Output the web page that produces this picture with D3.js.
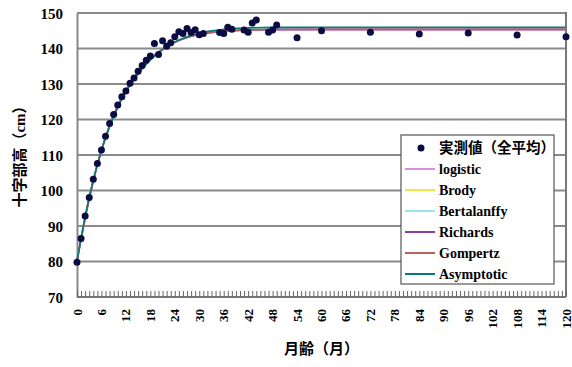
<!DOCTYPE html>
<html>
<head>
<meta charset="utf-8">
<script src="https://cdn.jsdelivr.net/npm/d3@7"></script>
<style>
  html, body { margin: 0; padding: 0; background: #fff; }
  svg { display: block; }
  text { font-family: "Liberation Serif", "Noto Sans CJK JP", serif; font-weight: bold; fill: #000; }
</style>
</head>
<body>
<svg id="chart" width="572" height="367"></svg>
<script>
// Measured withers height (all-animal mean), cm, by age in months
const obsMonths = [0,1,2,3,4,5,6,7,8,9,10,11,12,13,14,15,16,17,18,19,20,21,22,23,24,
  25,26,27,28,29,30,31,35,36,37,38,41,42,43,44,47,48,49,54,60,72,84,96,108,120];
const obsValues = [79.8,86.5,92.8,98.0,103.2,107.6,111.4,115.3,118.9,121.4,124.1,126.4,128.0,
  130.2,131.7,133.6,135.2,136.7,137.9,141.4,138.3,142.2,140.6,141.6,143.3,
  144.7,144.2,145.6,144.5,145.3,143.9,144.2,144.5,144.2,146.0,145.4,145.2,144.6,147.2,148.0,
  144.6,145.2,146.6,143.0,145.0,144.6,144.1,144.4,143.8,143.3];

// Fitted growth curves, sampled by month
const curveMonths = [0,1,2,3,4,6,8,10,12,15,18,21,24,27,30,36,42,48,60,72,84,96,108,120];
const logisticValues    = [80.6,86.2,92.0,97.5,102.6,111.4,118.4,124.0,128.4,133.4,137.2,139.9,141.8,143.1,143.9,144.8,145.1,145.25,145.3,145.3,145.3,145.3,145.3,145.3];
const brodyValues       = [80.0,86.5,92.6,98.0,102.9,111.2,117.9,123.3,127.7,132.8,136.7,139.6,141.7,143.2,144.2,145.2,145.6,145.75,145.8,145.8,145.8,145.8,145.8,145.8];
const bertalanffyValues = [80.2,86.4,92.4,97.8,102.8,111.3,118.1,123.6,128.0,133.1,136.9,139.7,141.7,143.1,144.0,145.0,145.4,145.55,145.6,145.6,145.6,145.6,145.6,145.6];
const richardsValues    = [80.1,86.3,92.3,97.7,102.7,111.3,118.2,123.7,128.1,133.2,137.0,139.8,141.8,143.1,144.0,144.9,145.25,145.35,145.4,145.4,145.4,145.4,145.4,145.4];
const gompertzValues    = [80.3,86.3,92.2,97.6,102.7,111.4,118.3,123.8,128.2,133.3,137.1,139.8,141.8,143.1,144.0,144.9,145.2,145.35,145.4,145.4,145.4,145.4,145.4,145.4];
const asymptoticValues  = [80.0,86.6,92.7,98.1,103.0,111.3,118.0,123.4,127.8,132.9,136.8,139.7,141.8,143.3,144.3,145.4,145.8,145.95,146.0,146.0,146.0,146.0,146.0,146.0];

const series = [
  { name: "logistic",    values: logisticValues,    color: "#dc8cdc" },
  { name: "Brody",       values: brodyValues,       color: "#ece84a" },
  { name: "Bertalanffy", values: bertalanffyValues, color: "#9ce4ec" },
  { name: "Richards",    values: richardsValues,    color: "#8a3e9e" },
  { name: "Gompertz",    values: gompertzValues,    color: "#b8625e" },
  { name: "Asymptotic",  values: asymptoticValues,  color: "#0a7a78" }
];

const yTicks = [70,80,90,100,110,120,130,140,150];
const xLabelTicks = d3.range(0, 121, 6);
const xMinorTicks = d3.range(0, 121, 1);

const svg = d3.select("#chart");
const plot = { left: 77, right: 566, top: 13, bottom: 297 };

const x = d3.scaleLinear().domain([0, 120]).range([plot.left, plot.right]);
const y = d3.scaleLinear().domain([70, 150]).range([plot.bottom, plot.top]);

// horizontal gridlines
svg.append("g").selectAll("line").data(yTicks.filter(v => v > 70)).join("line")
  .attr("x1", plot.left).attr("x2", plot.right)
  .attr("y1", d => y(d)).attr("y2", d => y(d))
  .attr("stroke", "#8a8a8a").attr("stroke-width", 2.2);

// right border of plot area
svg.append("line")
  .attr("x1", plot.right).attr("x2", plot.right)
  .attr("y1", plot.top - 1).attr("y2", plot.bottom)
  .attr("stroke", "#777").attr("stroke-width", 2);

// y axis
const yAxis = d3.axisLeft(y).tickValues(yTicks).tickSize(0).tickPadding(14).tickFormat(d3.format("d"));
const gy = svg.append("g").attr("transform", `translate(${plot.left},0)`).call(yAxis);
gy.select(".domain").attr("stroke", "#888").attr("stroke-width", 2);
gy.selectAll("text").style("font-size", "15px").attr("dy", "0.36em");

// x axis: monthly ticks pointing inward
const xAxis = d3.axisTop(x).tickValues(xMinorTicks).tickSize(6).tickFormat("");
const gx = svg.append("g").attr("transform", `translate(0,${plot.bottom})`).call(xAxis);
gx.select(".domain").attr("stroke", "#777").attr("stroke-width", 2).attr("d", `M${plot.left},0H${plot.right}`);
gx.selectAll(".tick line").attr("stroke", "#666").attr("stroke-width", 1);

// x tick labels, rotated
svg.append("g").selectAll("text").data(xLabelTicks).join("text")
  .attr("transform", d => `translate(${x(d) + 4.5},${plot.bottom + 12}) rotate(-90)`)
  .attr("text-anchor", "end")
  .style("font-size", "13px")
  .text(d => d);

// fitted curves
const line = d3.line().curve(d3.curveMonotoneX);
series.forEach(s => {
  svg.append("path")
    .datum(curveMonths.map((m, i) => [x(m), y(s.values[i])]))
    .attr("d", line)
    .attr("fill", "none")
    .attr("stroke", s.color)
    .attr("stroke-width", 1.6);
});

// observed points
svg.append("g").selectAll("circle").data(obsMonths).join("circle")
  .attr("cx", d => x(d))
  .attr("cy", (d, i) => y(obsValues[i]))
  .attr("r", 3.5)
  .attr("fill", "#0c0c44");

// axis titles
svg.append("text")
  .attr("transform", `translate(${(plot.left + plot.right) / 2},354)`)
  .attr("text-anchor", "middle")
  .style("font-size", "15px")
  .text("月齢（月）");

svg.append("text")
  .attr("transform", `translate(25,153) rotate(-90)`)
  .attr("text-anchor", "middle")
  .style("font-size", "15px")
  .text("十字部高（cm）");

// legend
const lg = svg.append("g").attr("transform", "translate(401,135)");
lg.append("rect").attr("width", 153).attr("height", 149)
  .attr("fill", "#fff").attr("stroke", "#555").attr("stroke-width", 1.2);
const rowY = i => 13 + i * 21;
lg.append("circle").attr("cx", 20).attr("cy", rowY(0)).attr("r", 3.5).attr("fill", "#0c0c44");
lg.append("text").attr("x", 38).attr("y", rowY(0)).attr("dy", "0.35em")
  .style("font-size", "14.5px").text("実測値（全平均）");
series.forEach((s, i) => {
  const yy = rowY(i + 1);
  lg.append("line").attr("x1", 4).attr("x2", 34).attr("y1", yy).attr("y2", yy)
    .attr("stroke", s.color).attr("stroke-width", 2);
  lg.append("text").attr("x", 38).attr("y", yy).attr("dy", "0.35em")
    .style("font-size", "14px").text(s.name);
});
</script>
</body>
</html>
